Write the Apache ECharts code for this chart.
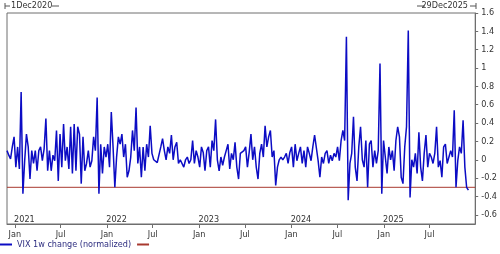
<!DOCTYPE html>
<html><head><meta charset="utf-8">
<script src="https://cdn.jsdelivr.net/npm/echarts@6/dist/echarts.min.js"></script>
<style>html,body{margin:0;padding:0;background:#fff}#c{width:500px;height:254px}</style>
</head><body><div id="c"></div>
<script>
// ---- data ----
const seriesName = 'VIX 1w change (normalized)';
const startLabel = '1Dec2020';
const endLabel = '29Dec2025';
const threshold = -0.3;
// weekly values, starting 1 Dec 2020
const vals2021 = [0.10,0.05,0.01,0.14,0.25,-0.08,0.14,-0.10,0.74,-0.37,-0.01,0.28,0.14,-0.21,0.10,-0.04,0.10,-0.12,0.10,0.14,-0.01,0.12,0.45,-0.12,0.10,-0.12,0.05,-0.01,0.32,-0.23,0.28,-0.08,0.39,-0.01,0.14,-0.10,0.36,-0.15,0.39,-0.12,0.36,0.28,-0.26,0.25,-0.12,-0.04,0.10,-0.08,-0.01,0.25,0.10,0.68,-0.37];
const vals2022 = [0.17,-0.15,0.14,0.03,0.17,-0.08,0.52,0.14,-0.30,0.03,0.25,0.17,0.28,0.03,0.17,-0.19,-0.12,0.03,0.32,0.10,0.57,-0.04,0.14,-0.19,0.14,-0.12,0.17,0.03,0.37,0.07,0.00,0.00,-0.03,-0.04,0.14,0.23,0.10,0.00,0.14,0.07,0.27,0.00,0.14,0.19,-0.04,0.00,0.01,-0.08,0.00,0.03,-0.04,0.00];
const vals2023 = [0.21,-0.04,0.10,0.03,-0.08,0.14,0.08,-0.12,0.10,0.14,-0.08,0.21,0.10,0.44,0.00,-0.12,0.03,-0.06,0.03,0.10,0.17,-0.10,0.07,0.00,0.19,-0.08,-0.21,0.07,0.08,0.10,0.14,-0.08,0.08,0.28,0.00,0.14,-0.08,-0.21,0.07,0.17,0.03,0.37,0.14,0.25,0.32,0.03,0.10,-0.28,-0.08,0.00,0.03,0.00];
const vals2024 = [0.03,0.07,-0.04,0.08,0.14,-0.08,0.17,-0.01,0.07,0.14,-0.04,0.10,-0.08,0.14,0.07,-0.01,0.14,0.27,0.25,-0.01,-0.19,0.03,-0.04,0.07,0.10,-0.04,0.05,-0.01,0.07,0.03,0.14,-0.01,0.21,0.32,0.21,1.34,-0.44,-0.04,0.07,0.47,-0.08,-0.23,0.14,0.36,0.00,-0.08,0.21,-0.30,0.17,0.21,-0.08,0.10];
const vals2025 = [-0.04,0.10,1.05,-0.37,0.21,0.21,-0.15,0.14,0.00,0.10,-0.12,0.21,0.36,0.25,-0.19,-0.26,0.14,0.36,1.41,-0.41,0.00,-0.08,0.07,-0.15,0.30,-0.08,-0.23,0.07,0.27,-0.08,0.07,0.03,-0.04,0.07,0.36,-0.08,-0.01,-0.19,0.14,0.17,-0.04,0.03,0.10,0.03,0.54,-0.30,-0.01,0.14,0.07,0.43,-0.08,-0.30,-0.33];
const yTickLabels = [-0.6,-0.4,-0.2,0,0.2,0.4,0.6,0.8,1,1.2,1.4,1.6];
const monthTicks = ['2021-01-01','2021-07-01','2022-01-01','2022-07-01','2023-01-01','2023-07-01','2024-01-01','2024-07-01','2025-01-01','2025-07-01'];
const yearLabels = ['2021','2022','2023','2024','2025'];

// ---- build ----
const DAY = 86400000;
const t0 = Date.UTC(2020,11,1), t1 = Date.UTC(2025,11,29);
const weekly = [].concat(vals2021, vals2022, vals2023, vals2024, vals2025);
const lineData = weekly.map((v,i)=>[t0 + i*7*DAY, v]);
const monthVals = monthTicks.map(s=>Date.parse(s+'T00:00:00Z'));
const yearVals = yearLabels.map(y=>Date.UTC(+y,1,8));
const FONT = "'DejaVu Sans Condensed','Liberation Sans',sans-serif";
const AX = '#6e6e6e', TX = '#333';

const chart = echarts.init(document.getElementById('c'), null, {renderer:'canvas'});
chart.setOption({
  animation:false,
  grid:{left:7,right:24,top:13,bottom:30,show:true,borderColor:AX,borderWidth:1,backgroundColor:'transparent'},
  xAxis:[{
    type:'value',min:t0,max:t1,position:'bottom',scale:true,
    axisLine:{show:true,onZero:false,lineStyle:{color:AX}},
    axisTick:{show:true,customValues:monthVals,length:4,lineStyle:{color:AX}},
    axisLabel:{customValues:monthVals,formatter:v=>new Date(v).getUTCMonth()===0?'Jan':'Jul',margin:6,fontSize:9,color:TX,fontFamily:FONT,hideOverlap:false,showMinLabel:true,showMaxLabel:true},
    splitLine:{show:false}
  },{
    type:'value',min:t0,max:t1,position:'bottom',scale:true,
    axisLine:{show:false,onZero:false},axisTick:{show:false},
    axisLabel:{inside:true,customValues:yearVals,formatter:v=>String(new Date(v).getUTCFullYear()),margin:0,fontSize:9,color:TX,fontFamily:FONT,hideOverlap:false},
    splitLine:{show:false}
  }],
  yAxis:{
    type:'value',position:'right',min:-0.7,max:1.6,
    axisLine:{show:true,onZero:false,lineStyle:{color:AX}},
    axisTick:{show:true,customValues:yTickLabels,length:3,lineStyle:{color:AX}},
    axisLabel:{customValues:yTickLabels,formatter:v=>String(parseFloat(Number(v).toFixed(1))),margin:6,fontSize:9,color:TX,fontFamily:FONT},
    splitLine:{show:false}
  },
  legend:{left:0,top:240,itemWidth:12,itemHeight:2,icon:'rect',itemGap:6,padding:0,
    textStyle:{fontSize:9,fontFamily:FONT,color:'#2e2e80'},
    data:[{name:seriesName},{name:' '}]},
  series:[
    {type:'line',name:seriesName,data:lineData,showSymbol:false,symbol:'none',lineStyle:{width:1.5,color:'#0c0cc4'},itemStyle:{color:'#0c0cc4'},z:3},
    {type:'line',name:' ',data:[[t0,threshold],[t1,threshold]],showSymbol:false,symbol:'none',lineStyle:{width:1,color:'#a8392f'},itemStyle:{color:'#a8392f'},z:2}
  ],
  graphic:[
    {type:'line',shape:{x1:5,y1:3,x2:5,y2:9},style:{stroke:'#555',lineWidth:1}},
    {type:'line',shape:{x1:5,y1:6,x2:10,y2:6},style:{stroke:'#555',lineWidth:1}},
    {type:'text',x:11,y:6,style:{text:startLabel,font:"9px "+FONT,fill:TX,verticalAlign:'middle'}},
    {type:'line',shape:{x1:52,y1:6,x2:59,y2:6},style:{stroke:'#555',lineWidth:1}},
    {type:'line',shape:{x1:417,y1:6,x2:425,y2:6},style:{stroke:'#555',lineWidth:1}},
    {type:'text',x:468,y:6,style:{text:endLabel,font:"9px "+FONT,fill:TX,verticalAlign:'middle',align:'right'}},
    {type:'line',shape:{x1:470,y1:6,x2:476,y2:6},style:{stroke:'#555',lineWidth:1}},
    {type:'line',shape:{x1:476,y1:3,x2:476,y2:9},style:{stroke:'#555',lineWidth:1}}
  ]
});
</script></body></html>
